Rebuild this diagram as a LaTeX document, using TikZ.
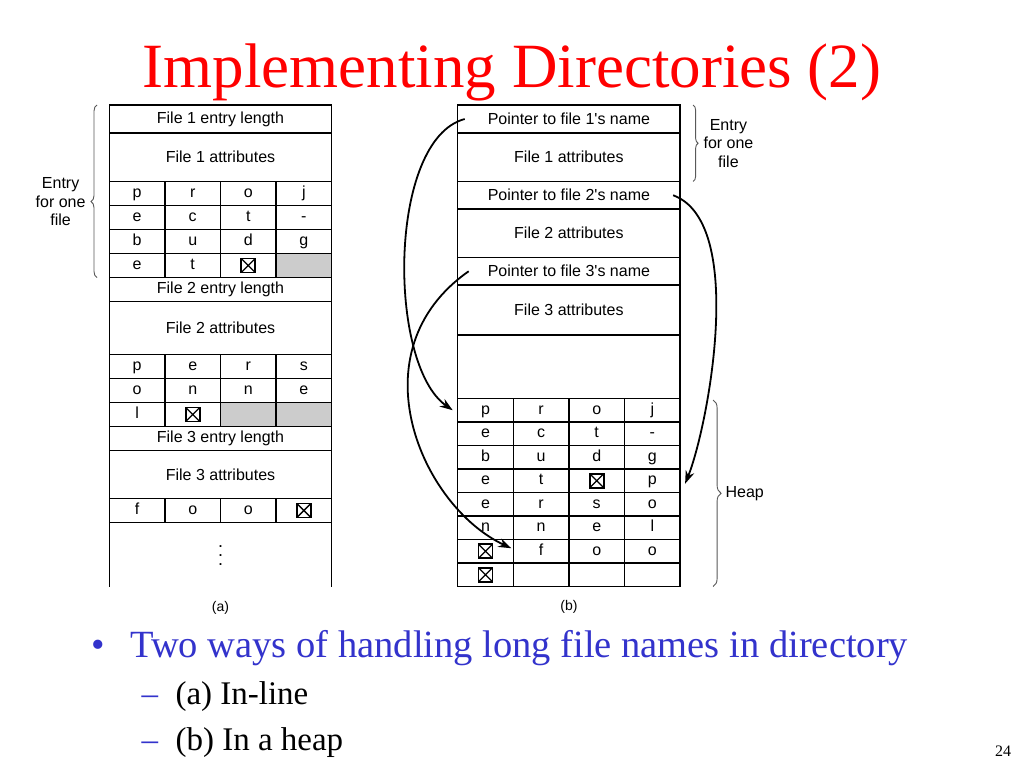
\documentclass[tikz,border=0pt]{standalone}
\usepackage{fontspec}
\setmainfont{Liberation Serif}
\newfontfamily\figfont{Liberation Sans}
\usetikzlibrary{positioning,calc,arrows.meta,decorations.pathreplacing}
\definecolor{slideblue}{RGB}{51,51,204}
\definecolor{cellgrey}{RGB}{204,204,204}
\tikzset{
  >={Stealth[length=13pt,width=9pt]},
  tbl/.style={draw,line width=1.5pt,outer sep=0pt,inner sep=0pt,
    font=\figfont\fontsize{16}{18.5}\selectfont},
  wrow/.style={tbl,minimum width=222.4pt,anchor=north west},
  cell/.style={tbl,minimum width=55.6pt,minimum height=24pt,
    text height=11.5pt,text depth=3.5pt,anchor=north west},
  nulbox/.style={draw,line width=1.8pt,minimum size=14pt,inner sep=0pt,
    path picture={\draw[line width=1.3pt]
      (path picture bounding box.south west) -- (path picture bounding box.north east)
      (path picture bounding box.north west) -- (path picture bounding box.south east);}},
  nulcell/.style={cell,label={[nulbox]center:{}}},
  greycell/.style={cell,fill=cellgrey},
  ptr/.style={->,line width=1.8pt},
  brc/.style={decorate,decoration={brace,amplitude=6pt},line width=0.9pt,black!65},
  brclbl/.style={font=\figfont\fontsize{16}{18.5}\selectfont,align=center,
    inner sep=2pt,text=black},
  sublbl/.style={font=\figfont\fontsize{14}{16}\selectfont},
  titletxt/.style={font=\fontsize{63}{70}\selectfont,text=red},
  bultxt/.style={font=\fontsize{38.5}{44}\selectfont,text=slideblue},
  subtxt/.style={font=\fontsize{33}{38}\selectfont},
}

\begin{document}
\begin{tikzpicture}[x=1pt,y=1pt]
  \useasboundingbox (0,0) rectangle (1024,-768);
  \fill[white] (0,0) rectangle (1024,-768);

  \node[titletxt,anchor=base] (title) at (512,-87) {Implementing Directories (2)};

  % (a) names kept in line
  \node[wrow,minimum height=28pt] (a1len) at (109.3,-105) {File 1 entry length};
  \node[wrow,minimum height=48.5pt,below=0pt of a1len] (a1attr) {File 1 attributes};
  \foreach \ch [count=\c] in {p,r,o,j}
    \node[cell] (a1-1-\c) at ($(a1attr.south west)+(55.6*\c-55.6,0)$) {\ch};
  \foreach \ch [count=\c] in {e,c,t,-}
    \node[cell] (a1-2-\c) at ($(a1-1-1.south west)+(55.6*\c-55.6,0)$) {\ch};
  \foreach \ch [count=\c] in {b,u,d,g}
    \node[cell] (a1-3-\c) at ($(a1-2-1.south west)+(55.6*\c-55.6,0)$) {\ch};
  \foreach \ch/\sty [count=\c] in {e/cell,t/cell,{}/nulcell,{}/greycell}
    \node[\sty] (a1-4-\c) at ($(a1-3-1.south west)+(55.6*\c-55.6,0)$) {\ch};

  \node[wrow,minimum height=24pt] (a2len) at (a1-4-1.south west) {File 2 entry length};
  \node[wrow,minimum height=53pt,below=0pt of a2len] (a2attr) {File 2 attributes};
  \foreach \ch [count=\c] in {p,e,r,s}
    \node[cell] (a2-1-\c) at ($(a2attr.south west)+(55.6*\c-55.6,0)$) {\ch};
  \foreach \ch [count=\c] in {o,n,n,e}
    \node[cell] (a2-2-\c) at ($(a2-1-1.south west)+(55.6*\c-55.6,0)$) {\ch};
  \foreach \ch/\sty [count=\c] in {l/cell,{}/nulcell,{}/greycell,{}/greycell}
    \node[\sty] (a2-3-\c) at ($(a2-2-1.south west)+(55.6*\c-55.6,0)$) {\ch};

  \node[wrow,minimum height=24pt] (a3len) at (a2-3-1.south west) {File 3 entry length};
  \node[wrow,minimum height=48pt,below=0pt of a3len] (a3attr) {File 3 attributes};
  \foreach \ch/\sty [count=\c] in {f/cell,o/cell,o/cell,{}/nulcell}
    \node[\sty] (a3-1-\c) at ($(a3attr.south west)+(55.6*\c-55.6,0)$) {\ch};
  \draw[line width=1.5pt] (a3-1-1.south west) -- ++(0,-64.5)
    (a3-1-4.south east) -- ++(0,-64.5);
  \node[font=\figfont\fontsize{18}{9}\selectfont,align=center,inner sep=0pt] (adots)
    at ($(a3-1-1.south west)!0.5!(a3-1-4.south east)+(0,-33)$) {.\\.\\.};

  \draw[brc,decoration={aspect=0.44}] ([xshift=-12.3pt]a1-4-1.south west)
    -- ([xshift=-12.3pt]a1len.north west)
    node[brclbl,pos=0.44,left=9pt] (aentry) {Entry\\for one\\file};
  \node[sublbl] (acap)
    at ($(a3-1-1.south west)!0.5!(a3-1-4.south east)+(0,-85)$) {(a)};

  % (b) names kept in a heap
  \node[wrow,minimum height=28pt] (bp1) at (457.7,-105) {Pointer to file 1's name};
  \node[wrow,minimum height=48.5pt,below=0pt of bp1] (battr1) {File 1 attributes};
  \node[wrow,minimum height=27.5pt,below=0pt of battr1] (bp2) {Pointer to file 2's name};
  \node[wrow,minimum height=48.5pt,below=0pt of bp2] (battr2) {File 2 attributes};
  \node[wrow,minimum height=27.5pt,below=0pt of battr2] (bp3) {Pointer to file 3's name};
  \node[wrow,minimum height=50pt,below=0pt of bp3] (battr3) {File 3 attributes};
  \node[wrow,minimum height=63.5pt,below=0pt of battr3] (bfree) {};

  \begin{scope}[cell/.append style={minimum height=23.5pt}]
    \foreach \ch [count=\c] in {p,r,o,j}
      \node[cell] (h-1-\c) at ($(bfree.south west)+(55.6*\c-55.6,0)$) {\ch};
    \foreach \ch [count=\c] in {e,c,t,-}
      \node[cell] (h-2-\c) at ($(h-1-1.south west)+(55.6*\c-55.6,0)$) {\ch};
    \foreach \ch [count=\c] in {b,u,d,g}
      \node[cell] (h-3-\c) at ($(h-2-1.south west)+(55.6*\c-55.6,0)$) {\ch};
    \foreach \ch/\sty [count=\c] in {e/cell,t/cell,{}/nulcell,p/cell}
      \node[\sty] (h-4-\c) at ($(h-3-1.south west)+(55.6*\c-55.6,0)$) {\ch};
    \foreach \ch [count=\c] in {e,r,s,o}
      \node[cell] (h-5-\c) at ($(h-4-1.south west)+(55.6*\c-55.6,0)$) {\ch};
    \foreach \ch [count=\c] in {n,n,e,l}
      \node[cell] (h-6-\c) at ($(h-5-1.south west)+(55.6*\c-55.6,0)$) {\ch};
    \foreach \ch/\sty [count=\c] in {{}/nulcell,f/cell,o/cell,o/cell}
      \node[\sty] (h-7-\c) at ($(h-6-1.south west)+(55.6*\c-55.6,0)$) {\ch};
    \foreach \ch/\sty [count=\c] in {{}/nulcell,{}/cell,{}/cell,{}/cell}
      \node[\sty] (h-8-\c) at ($(h-7-1.south west)+(55.6*\c-55.6,0)$) {\ch};
  \end{scope}

  \draw[ptr] ([xshift=7pt]bp1.west) to[out=195,in=145,looseness=0.7]
    ([xshift=-5pt]h-1-1.west);
  \draw[ptr] ([xshift=-7pt]bp2.east)
    to[out=340,in=68,out looseness=0.7,in looseness=0.53]
    ([shift={(5pt,-3pt)}]h-4-4.east);
  \draw[ptr] ([xshift=11pt]bp3.west)
    to[out=215,in=155,out looseness=1.28,in looseness=0.91]
    ([shift={(-2pt,3pt)}]h-7-2.west);

  \draw[brc,decoration={amplitude=5pt}] ([xshift=13pt]bp1.north east)
    -- ([xshift=13pt]battr1.south east)
    node[brclbl,midway,right=8pt] (bentry) {Entry\\for one\\file};
  \draw[brc,decoration={amplitude=8pt}] ([shift={(33pt,-1.5pt)}]h-1-4.north east)
    -- ([xshift=33pt]h-8-4.south east)
    node[brclbl,midway,right=10pt] (heap) {Heap};
  \node[sublbl] (bcap)
    at ($(h-8-1.south west)!0.5!(h-8-4.south east)+(0,-20.5)$) {(b)};

  % slide text
  \node[bultxt,anchor=base west] (dot1) at (88.4,-657) {•};
  \node[bultxt,anchor=base west] (bul1) at (126.7,-657)
    {Two ways of handling long file names in directory};
  \node[subtxt,text=slideblue,anchor=base west] (dash1) at (138,-704) {–};
  \node[subtxt,anchor=base west] (sub1) at (172,-704) {(a) In-line};
  \node[subtxt,text=slideblue,anchor=base west] (dash2) at (138,-750) {–};
  \node[subtxt,anchor=base west] (sub2) at (172,-750) {(b) In a heap};
  \node[font=\fontsize{16}{18}\selectfont,anchor=base] (pgno) at (1003,-756) {24};
\end{tikzpicture}
\end{document}
